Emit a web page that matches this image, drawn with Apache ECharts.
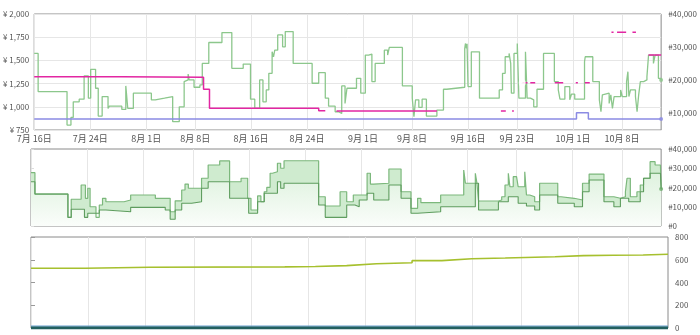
<!DOCTYPE html>
<html><head><meta charset="utf-8">
<script src="https://cdn.jsdelivr.net/npm/echarts@6/dist/echarts.min.js"></script>
<style>html,body{margin:0;padding:0;background:#fff}#c{width:700px;height:335px}</style>
</head><body><div id="c"></div>
<script>
// x values are days since 7月16日
const dayTicks = [0, 8, 16, 23, 31, 39, 47, 54, 62, 69, 77, 84];
const dayMax = 89.6;
const priceTicks = [750, 1000, 1250, 1500, 1750, 2000];
const rankTicksTop = [10000, 20000, 30000, 40000];
const rankTicksMid = [0, 10000, 20000, 30000, 40000];
const reviewTicks = [0, 200, 400, 600, 800];

// top panel: sales rank (right axis)
const salesRank = [
 [0,28100],[0.56,16600],[4.69,6500],[5.25,8800],[5.58,13500],[6.43,14300],[7.13,21300],[7.74,14600],
 [8.07,23300],[8.77,17600],[9.15,9200],[9.71,15100],[10.55,11500],[10.74,12200],[12.52,11200],[13.09,18300],
 [13.37,11500],[14.17,16100],[16.74,14100],[17.31,14600],[18.62,15100],[19.79,7500],[20.73,12000],[21.43,19600],
 [21.67,20100],[22.0,21900],[22.14,20100],[22.84,17900],[23.68,18600],[24.02,25100],[24.95,31400],[26.83,34400],
 [28.24,23600],[29.87,24900],[30.91,14300],[31.52,11500],[32.22,20100],[32.69,13500],[33.16,17100],[33.53,22100],
 [34.0,28600],[34.2,27100],[34.38,29100],[34.8,33700],[35.5,30100],[35.88,34700],[37.01,25100],[39.72,19100],
 [40.66,22300],[41.6,14600],[42.07,12200],[43.01,10500],[43.5,10000],[43.95,18300],[44.42,13000],[44.7,17600],
 [46.06,20600],[46.67,16100],[47.32,27600],[47.79,27900],[48.26,19600],[48.73,25100],[50.04,29100],[50.51,27600],
 [50.75,29900],[52.62,18300],[54.03,14600],[54.27,9000],[54.5,14100],[54.97,11800],[55.44,14300],[56.05,9200],
 [57.55,11000],[58.49,17300],[58.96,17900],[61.53,29600],[61.63,31100],[61.77,29600],[61.86,31000],[62.0,18100],
 [62.47,28600],[63.64,14600],[66.46,17100],[66.93,22100],[67.31,27100],[67.87,28100],[68.1,25100],[68.2,16100],
 [68.57,28100],[69.04,31100],[69.18,31700],[69.27,14600],[70.21,28600],[70.45,14600],[70.92,14100],[71.39,12000],
 [71.86,17300],[72.79,28100],[74.34,19600],[74.9,17100],[75.14,14300],[75.84,18100],[76.54,14100],[76.78,15800],
 [77.25,14300],[78.65,25600],[78.75,27100],[79.83,19600],[80.77,14100],[81.0,10500],[81.2,15600],[81.47,16100],
 [82.17,13000],[82.41,15600],[82.64,11500],[82.88,15100],[83.81,17100],[84.05,15100],[84.66,19600],[84.85,22600],
 [84.99,15100],[85.22,17100],[85.93,15100],[86.16,10500],[86.39,15600],[86.63,19600],[87.1,20100],[87.57,21100],
 [87.8,27600],[88.5,25100],[88.74,27600],[89.21,20600],[89.6,20100]
];
// magenta price: [start day, end day, yen]
const buyBoxSegments = [
 [0,12.5,1324],[12.5,24.2,1318],[24.2,25.05,1188],[25.05,40.66,984],[40.66,41.6,958],
 [43.2,57.55,955],[66.7,67.4,955],[68.3,68.55,955],[69.8,70.5,1260],[70.9,71.6,1260],
 [74.4,75.6,1260],[77.4,77.7,1260],[78.7,79.4,1260],[82.5,82.8,1803],[83.3,84.6,1803],
 [85.5,86.0,1803],[87.8,89.6,1558]
];
const newPrice = [[0,869],[77.5,936],[79.2,869],[89.6,869]];
const specialMarks = [[69.75,1260]];

// middle panel: rank range
const rankHigh = [
 [0,27700],[0.56,16600],[5.25,4500],[5.72,13900],[7.13,21300],[7.74,14400],[8.07,19600],[8.4,10000],
 [9.24,4500],[9.71,10900],[10.17,14400],[10.65,12600],[13.23,13500],[14.17,16100],[17.68,14400],[19.79,7400],
 [20.5,13100],[21.43,18700],[21.9,21800],[22.37,19600],[24.25,24800],[25.19,31700],[26.83,33800],[28.24,23000],
 [29.87,24800],[30.81,14400],[31.28,8300],[32.22,15600],[32.69,12600],[33.16,17800],[33.53,20100],[34.0,27400],
 [34.33,28200],[35.04,32600],[35.5,30000],[35.98,33900],[40.9,15200],[41.84,10400],[43.95,17800],[44.89,12600],
 [45.83,16100],[47.79,27400],[48.26,21800],[48.73,22200],[50.89,29600],[52.62,17800],[54.03,9200],[54.97,14400],
 [55.44,12100],[58.25,16100],[61.53,29100],[61.77,22200],[63.18,27400],[63.41,22200],[63.64,13000],[66.46,13500],
 [66.93,15200],[67.4,21300],[67.87,27400],[68.1,20400],[68.57,25600],[69.04,26500],[69.27,20400],[70.21,28200],
 [70.45,16100],[70.92,15200],[71.62,12600],[72.32,22200],[74.9,15200],[75.37,14400],[77.25,13500],[78.42,22200],
 [79.36,27000],[81.47,15200],[82.88,14400],[83.81,15200],[84.52,17800],[84.75,24800],[85.22,15200],[86.16,17800],
 [86.63,21300],[87.1,24800],[88.03,33400],[88.74,31700],[89.5,31700],[89.6,19200]
];
const rankLow = [
 [0,23000],[0.56,16600],[5.25,4500],[5.72,8700],[7.6,4500],[8.07,6600],[9.71,8300],[10.65,7400],
 [14.17,9700],[19.09,8300],[19.79,3500],[20.5,8300],[21.43,11800],[22.84,12600],[24.25,19600],[25.19,23000],
 [28.24,14400],[30.95,6600],[32.22,12600],[33.16,17000],[35.04,23000],[35.5,19600],[35.98,22200],[40.9,10900],
 [41.84,4500],[44.89,10900],[46.06,10000],[46.67,13500],[47.79,17000],[48.73,13500],[50.89,21300],[52.62,14400],
 [54.03,6600],[54.97,7400],[58.25,10000],[63.18,22200],[63.64,8300],[66.46,12600],[67.87,15200],[69.27,11800],
 [70.45,10400],[71.62,8300],[72.32,16100],[74.9,11800],[77.25,10000],[78.42,17800],[79.36,23900],[81.47,12600],
 [82.88,10000],[83.81,14400],[84.99,12600],[86.63,17800],[87.1,24800],[88.03,27400],[89.5,27400],[89.6,19200]
];

// bottom panel
const reviews = [
 [0,525],[7.6,534],[16.7,537],[35.7,540],[40,548],[44.4,565],[48.6,574],[53.6,592],[57.8,609],
 [62,615],[66.7,627],[73.7,636],[77.7,639],[81.9,642],[86.1,648],[89.6,648]
];
const offers = [[0,16],[89.6,16]];
const rating = [[0,0],[89.6,0]];

const FONT = '"Noto Sans CJK JP", "Noto Sans", sans-serif';
function dayLabel(d) {
  const dt = new Date(Date.UTC(2023, 6, 16) + Math.round(d) * 86400000);
  return (dt.getUTCMonth() + 1) + '月 ' + dt.getUTCDate() + '日';
}
function segData(segs) {
  const out = [];
  segs.forEach((s, i) => {
    const prev = segs[i - 1];
    if (prev && prev[1] !== s[0]) out.push([prev[1], '-']);
    out.push([s[0], s[2]]);
    out.push([s[1], s[2]]);
  });
  return out;
}
const last = a => a[a.length - 1];

const grids = [
  {left: 31, right: 32, top: 14, height: 116},
  {left: 31, right: 32, top: 149, height: 77},
  {left: 31, right: 32, top: 237, height: 91}
].map(g => Object.assign(g, {show: true, borderColor: '#8a8a8a', borderWidth: 1, containLabel: false}));

function xAx(i, showLabel) {
  return {
    type: 'value', gridIndex: i, min: 0, max: dayMax,
    axisLine: {show: false},
    axisTick: {show: false, customValues: dayTicks},
    axisLabel: {show: showLabel, customValues: dayTicks, formatter: dayLabel,
      fontSize: 9, color: '#555', margin: 4, fontFamily: FONT},
    splitLine: {show: true, lineStyle: {color: '#e6e6e6', width: 1}}
  };
}
const lab = (fmt) => ({fontSize: 8, color: '#555', fontFamily: FONT, formatter: fmt});
const fmtNum = v => v.toLocaleString('en-US');

const option = {
  animation: false,
  grid: grids,
  xAxis: [xAx(0, true), xAx(1, false), xAx(2, false)],
  yAxis: [
    {type: 'value', gridIndex: 0, min: 750, max: 2000, interval: 250, position: 'left',
      axisLine: {show: false}, axisTick: {show: false},
      axisLabel: Object.assign(lab(v => '¥ ' + fmtNum(v)), {margin: 5}),
      splitLine: {lineStyle: {color: '#e6e6e6'}}},
    {type: 'value', gridIndex: 0, min: 5000, max: 40000, interval: 5000, position: 'right',
      axisLine: {show: false}, axisTick: {show: false},
      axisLabel: Object.assign(lab(v => '#' + fmtNum(v)), {margin: 7, customValues: rankTicksTop}),
      splitLine: {show: false}},
    {type: 'value', gridIndex: 1, min: 0, max: 40000, interval: 10000, position: 'right',
      axisLine: {show: false}, axisTick: {show: true, length: 3, lineStyle: {color: '#ddd'}},
      axisLabel: Object.assign(lab(v => '#' + fmtNum(v)), {margin: 7}),
      splitLine: {show: false}},
    {type: 'value', gridIndex: 2, min: 0, max: 800, interval: 200, position: 'right',
      axisLine: {show: false}, axisTick: {show: true, length: 4, lineStyle: {color: '#999'}},
      axisLabel: Object.assign(lab(v => String(v)), {margin: 7}),
      splitLine: {show: false}}
  ],
  series: [
    {type: 'line', step: 'end', xAxisIndex: 0, yAxisIndex: 1, data: salesRank, symbol: 'none',
      lineStyle: {color: '#8cc78c', width: 1.3}, z: 2},
    {type: 'scatter', xAxisIndex: 0, yAxisIndex: 1, data: [last(salesRank)], symbolSize: 4,
      itemStyle: {color: '#8cc78c'}, z: 3},
    {type: 'line', step: 'end', xAxisIndex: 0, yAxisIndex: 0, data: newPrice, symbol: 'none',
      lineStyle: {color: '#8b8be3', width: 1.5}, z: 3},
    {type: 'scatter', xAxisIndex: 0, yAxisIndex: 0, data: [last(newPrice)], symbolSize: 4,
      itemStyle: {color: '#8b8be3'}, z: 3},
    {type: 'line', step: 'end', xAxisIndex: 0, yAxisIndex: 0, data: segData(buyBoxSegments), symbol: 'none',
      connectNulls: false, lineStyle: {color: '#e226a2', width: 1.5}, z: 4},
    {type: 'scatter', xAxisIndex: 0, yAxisIndex: 0, data: specialMarks, symbol: 'emptyCircle', symbolSize: 5,
      itemStyle: {color: '#fff', borderColor: '#3d8fdc', borderWidth: 1.2}, z: 5},

    // middle panel areas
    {type: 'line', step: 'end', xAxisIndex: 1, yAxisIndex: 2, data: rankHigh, symbol: 'none',
      lineStyle: {width: 0, opacity: 0}, areaStyle: {color: '#cfebcf', opacity: 1}, z: 1},
    {type: 'line', step: 'end', xAxisIndex: 1, yAxisIndex: 2, data: rankLow, symbol: 'none',
      lineStyle: {width: 0, opacity: 0},
      areaStyle: {opacity: 1, color: {type: 'linear', x: 0, y: 0, x2: 0, y2: 1,
        colorStops: [{offset: 0, color: '#dff2df'}, {offset: 1, color: '#fafdfa'}]}}, z: 1},
    {type: 'line', step: 'end', xAxisIndex: 1, yAxisIndex: 2, data: rankHigh, symbol: 'none',
      lineStyle: {color: '#7cb87c', width: 1.2}, z: 2},
    {type: 'line', step: 'end', xAxisIndex: 1, yAxisIndex: 2, data: rankLow, symbol: 'none',
      lineStyle: {color: '#5f9d5f', width: 1.1}, z: 2},
    {type: 'scatter', xAxisIndex: 1, yAxisIndex: 2, data: [last(rankLow)], symbolSize: 4,
      itemStyle: {color: '#6aaa6a'}, z: 3},

    // bottom panel
    {type: 'line', step: 'end', xAxisIndex: 2, yAxisIndex: 3, data: reviews, symbol: 'none',
      lineStyle: {color: '#a6c02e', width: 1.6}, z: 2},
    {type: 'line', step: 'end', xAxisIndex: 2, yAxisIndex: 3, data: offers, symbol: 'none',
      lineStyle: {color: '#6aa0d0', width: 1.2}, z: 2},
    {type: 'line', step: 'end', xAxisIndex: 2, yAxisIndex: 3, data: rating, symbol: 'none',
      lineStyle: {color: '#22605f', width: 3}, z: 3}
  ]
};
const chart = echarts.init(document.getElementById('c'), null, {renderer: 'canvas'});
chart.setOption(option);
</script></body></html>
